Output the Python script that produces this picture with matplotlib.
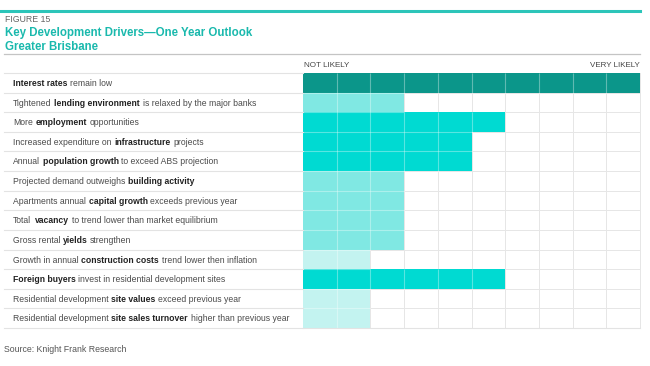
import numpy as np
import matplotlib
matplotlib.use("Agg")
import matplotlib.pyplot as plt
from matplotlib.lines import Line2D
from matplotlib.transforms import blended_transform_factory, ScaledTranslation
from matplotlib.font_manager import FontProperties, findfont, get_font

plt.rcParams['font.family'] = ['Liberation Sans', 'DejaVu Sans']

# each label split into (text, bold) pieces
labels = [
    [("Interest rates", True), (" remain low", False)],
    [("Tightened ", False), ("lending environment", True), (" is relaxed by the major banks", False)],
    [("More ", False), ("employment", True), (" opportunities", False)],
    [("Increased expenditure on ", False), ("infrastructure", True), (" projects", False)],
    [("Annual ", False), ("population growth", True), (" to exceed ABS projection", False)],
    [("Projected demand outweighs ", False), ("building activity", True)],
    [("Apartments annual ", False), ("capital growth", True), (" exceeds previous year", False)],
    [("Total ", False), ("vacancy", True), (" to trend lower than market equilibrium", False)],
    [("Gross rental ", False), ("yields", True), (" strengthen", False)],
    [("Growth in annual ", False), ("construction costs", True), (" trend lower then inflation", False)],
    [("Foreign buyers", True), (" invest in residential development sites", False)],
    [("Residential development ", False), ("site values", True), (" exceed previous year", False)],
    [("Residential development ", False), ("site sales turnover", True), (" higher than previous year", False)],
]
scores = [10, 3, 6, 5, 5, 3, 3, 3, 3, 2, 6, 2, 2]
n_cols = 10

shade = {10: "#0b968a", 6: "#00dad2", 5: "#00dad2", 3: "#80e8e3", 2: "#c3f3f0"}

W, H = 650, 366
fig = plt.figure(figsize=(6.5, 3.66), dpi=100)
renderer = fig.canvas.get_renderer()

# header decorations
fig.add_artist(Line2D([0, 640 / W], [1 - 11 / H] * 2, color="#2cc5b9", lw=2.2))
fig.text(5 / W, 1 - 19 / H, "FIGURE 15", fontsize=6.3, color="#666666", va="center")
fig.text(5 / W, 1 - 33 / H, "Key Development Drivers\u2014One Year Outlook",
         fontsize=8.3, color="#1ab9ad", fontweight="bold", va="center")
fig.text(5 / W, 1 - 47 / H, "Greater Brisbane",
         fontsize=8.3, color="#1ab9ad", fontweight="bold", va="center")
fig.add_artist(Line2D([4 / W, 640 / W], [1 - 54 / H] * 2, color="#c4c4c4", lw=0.9))

ax = fig.add_axes([303 / W, 1 - 328 / H, 337 / W, 255 / H])
rows = np.arange(len(scores))
ax.set_xlim(0, n_cols)
ax.set_ylim(len(scores) - 0.5, -0.5)

# grid
for x in range(1, n_cols):
    ax.axvline(x, color="#e6e6e6", lw=0.7, zorder=0)
for y in rows[:-1]:
    ax.axhline(y + 0.5, color="#e6e6e6", lw=0.7, zorder=0)

ax.barh(rows, scores, height=1.0, color=[shade[s] for s in scores], zorder=2, lw=0)
for y, s in zip(rows, scores):
    ax.vlines(np.arange(1, s), y - 0.5, y + 0.5, color="white", alpha=0.35, lw=0.8, zorder=3)
    if y > 0:
        ax.hlines(y - 0.5, 0, min(s, scores[y - 1]), color="white", alpha=0.35, lw=0.8, zorder=3)

for sp in ax.spines.values():
    sp.set_visible(False)
ax.spines["right"].set_visible(True)
ax.spines["right"].set_color("#e6e6e6")
ax.spines["right"].set_linewidth(0.7)
ax.set_xticks([])
ax.set_yticks([])

ax.text(0.02, -0.9, "NOT LIKELY", fontsize=5.8, color="#444444", va="center", ha="left")
ax.text(n_cols, -0.9, "VERY LIKELY", fontsize=5.8, color="#444444", va="center", ha="right")

# left-hand row labels and separators
tr = blended_transform_factory(fig.transFigure, ax.transData)
for y in list(rows - 0.5) + [len(scores) - 0.5]:
    fig.add_artist(Line2D([4 / W, 303 / W], [y, y], transform=tr, color="#e3e3e3", lw=0.8))
fig.add_artist(Line2D([303 / W, 640 / W], [len(scores) - 0.5] * 2, transform=tr,
                      color="#e3e3e3", lw=0.8))

fs = 6.2
fonts = {}
for wt in ("normal", "bold"):
    f = get_font(findfont(FontProperties(family="Liberation Sans", weight=wt)))
    f.set_size(fs, fig.dpi)
    fonts[wt] = f


def raw_advance(txt, weight):
    f = fonts[weight]
    return sum(f.load_char(ord(c)).linearHoriAdvance for c in txt)


# calibrate glyph advances to pixels against a rendered string
calib = "Residential development higher than previous year"
t = fig.text(0, 0, calib, fontsize=fs)
px_per_unit = t.get_window_extent(renderer).width / raw_advance(calib, "normal")
t.remove()


def advance(txt, weight):
    return raw_advance(txt, weight) * px_per_unit


# baseline sits a little below the row centre
tr_base = tr + ScaledTranslation(0, -2.3 / 72, fig.dpi_scale_trans)
for y, pieces in zip(rows, labels):
    cum = 13.0
    for txt, bold in pieces:
        weight = "bold" if bold else "normal"
        lead = txt[:len(txt) - len(txt.lstrip())]
        x0 = cum + advance(lead, weight)
        fig.text(x0 / W, y, txt.strip(), transform=tr_base, va="baseline", ha="left",
                 fontsize=fs, fontweight=weight,
                 color="#222222" if bold else "#4a4a4a")
        cum += advance(txt, weight)

fig.text(4 / W, 1 - 350 / H, "Source: Knight Frank Research", fontsize=6.3,
         color="#555555", va="center")

fig.savefig("out.png", dpi=100)
